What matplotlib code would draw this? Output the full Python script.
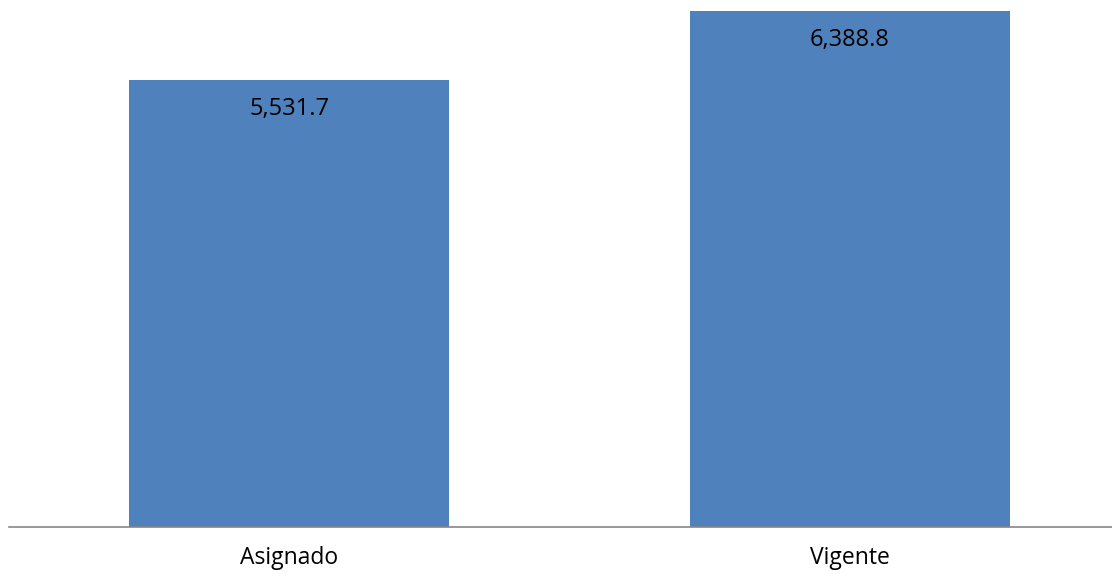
import matplotlib.pyplot as plt

categories = ["Asignado", "Vigente"]
values = [5531.7, 6388.8]
value_labels = ["5,531.7", "6,388.8"]

plt.rcParams['font.family'] = ['Open Sans', 'DejaVu Sans']

fig = plt.figure(figsize=(11.12, 5.74), dpi=100)
ax = fig.add_axes([9 / 1112, 47 / 574, 1 - 9 / 1112, 527 / 574])

x = range(len(categories))
bars = ax.bar(x, values, width=0.571, color="#4f81bd")

for b, lab in zip(bars, value_labels):
    ax.annotate(lab, (b.get_x() + b.get_width() / 2, b.get_height()),
                xytext=(0, -29), textcoords="offset pixels",
                ha="center", va="center", fontsize=17, color="black")

ax.set_xlim(-0.5, 1.468)
ax.set_ylim(0, 6525)
ax.set_xticks(list(x))
ax.set_xticklabels(categories, fontsize=16.5)
ax.tick_params(axis="x", length=0, pad=14)
ax.set_yticks([])
for s in ["top", "right", "left"]:
    ax.spines[s].set_visible(False)
ax.spines["bottom"].set_color("#868686")
ax.spines["bottom"].set_linewidth(1.2)
ax.patch.set_alpha(0)

fig.savefig("out.png", dpi=100)
